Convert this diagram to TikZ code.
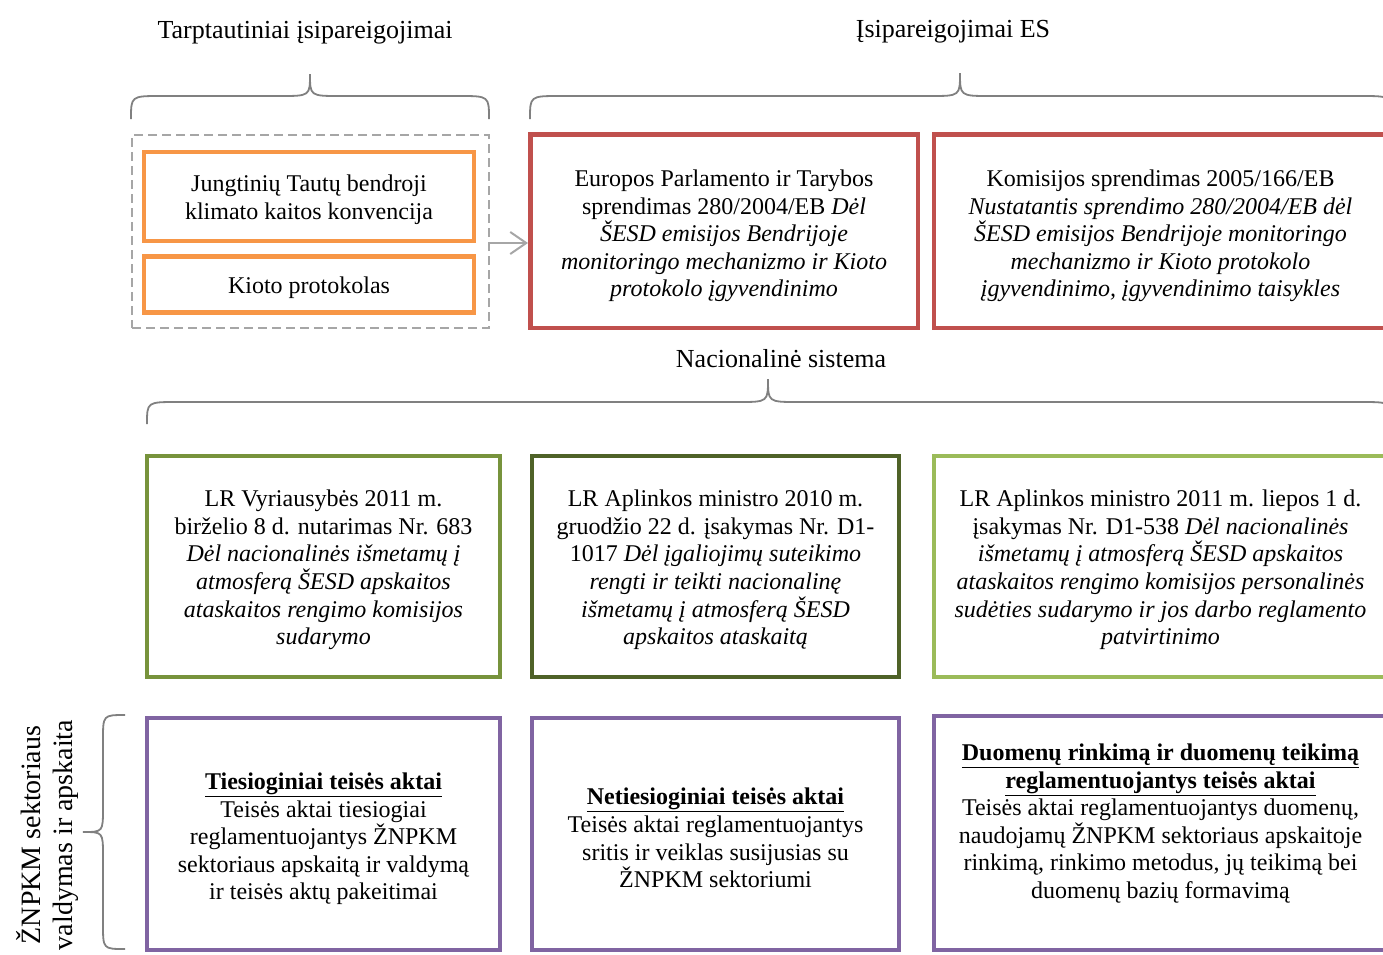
\documentclass[tikz,border=0pt]{standalone}
\usepackage{fontspec}
\setmainfont{Liberation Serif}
\usetikzlibrary{arrows.meta}
\definecolor{orng}{HTML}{F79646}
\definecolor{redb}{HTML}{C0504D}
\definecolor{grA}{HTML}{77933C}
\definecolor{grB}{HTML}{4F6228}
\definecolor{grC}{HTML}{9BBB59}
\definecolor{purp}{HTML}{8064A2}
\definecolor{brc}{HTML}{808080}
\definecolor{dsh}{HTML}{A6A6A6}
\begin{document}
\begin{tikzpicture}[x=1pt,y=-1pt,
  boxtext/.style={font=\fontsize{24}{27.6}\selectfont, align=center, inner sep=0pt},
  frame/.style={draw, line width=4.5pt, inner sep=0pt},
  heading/.style={font=\fontsize{26}{30}\selectfont, anchor=base, inner sep=0pt},
  brace/.style={draw=brc, line width=1.8pt},
]
\useasboundingbox (0,0) rectangle (1383,954);
\clip (0,0) rectangle (1383,954);

% headings
\node[heading] (h1) at (305,38) {Tarptautiniai įsipareigojimai};
\node[heading] (h2) at (953,37) {Įsipareigojimai ES};
\node[heading] (h3) at (781,367) {Nacionalinė sistema};
\node[font=\fontsize{28}{32}\selectfont, align=center, rotate=90, anchor=base, inner sep=0pt] (h4) at (72,835)
  {ŽNPKM sektoriaus\\valdymas ir apskaita};

% braces
\draw[brace] (131,119) .. controls (131,96) .. (161,96) -- (280,96)
  .. controls (310,96) .. (310,74) .. controls (310,96) .. (340,96) -- (459,96)
  .. controls (489,96) .. (489,119);
\draw[brace] (530,119) .. controls (530,96) .. (560,96) -- (930,96)
  .. controls (960,96) .. (960,73) .. controls (960,96) .. (990,96) -- (1360,96)
  .. controls (1392,96) .. (1392,119);
\draw[brace] (147,424) .. controls (147,402) .. (177,402) -- (738,402)
  .. controls (768,402) .. (768,379) .. controls (768,402) .. (798,402) -- (1360,402)
  .. controls (1392,402) .. (1392,424);
\draw[brace] (125,715) .. controls (103,715) .. (103,740) -- (103,808)
  .. controls (103,832) .. (83,832) .. controls (103,832) .. (103,856) -- (103,924)
  .. controls (103,949) .. (125,949);

% international
\node[draw=dsh, line width=2pt, dash pattern=on 9pt off 5pt, minimum width=357pt, minimum height=193pt, inner sep=0pt] (dbox) at (310.5,231.5) {};
\node[frame, draw=orng, minimum width=330pt, minimum height=89pt] (o1) at (309,196.5) {};
\node[boxtext] (o1t) at ([yshift=-3pt]o1.center) {Jungtinių Tautų bendroji\\klimato kaitos konvencija};
\node[frame, draw=orng, minimum width=330pt, minimum height=56pt] (o2) at (309,284.5) {};
\node[boxtext] (o2t) at ([yshift=-3pt]o2.center) {Kioto protokolas};

\coordinate (arrowstart) at (489,243);
\coordinate (arrowend) at (530,243);
\draw[dsh, line width=2pt, shorten >=2pt, -{Straight Barb[length=16pt,width=22pt,line width=2pt]}]
  (arrowstart) -- (arrowend);

% EU
\node[frame, draw=redb, minimum width=387.5pt, minimum height=193.5pt] (r1) at (724,231) {};
\node[boxtext] (r1t) at ([yshift=-5pt]r1.center)
  {Europos Parlamento ir Tarybos\\sprendimas 280/2004/EB \textit{Dėl}\\\textit{ŠESD emisijos Bendrijoje}\\\textit{monitoringo mechanizmo ir Kioto}\\\textit{protokolo įgyvendinimo}};
\node[frame, draw=redb, minimum width=453pt, minimum height=193.5pt] (r2) at (1160.5,231) {};
\node[boxtext] (r2t) at ([yshift=-5pt]r2.center)
  {Komisijos sprendimas 2005/166/EB\\\textit{Nustatantis sprendimo 280/2004/EB dėl}\\\textit{ŠESD emisijos Bendrijoje monitoringo}\\\textit{mechanizmo ir Kioto protokolo}\\\textit{įgyvendinimo, įgyvendinimo taisykles}};

% national
\node[frame, draw=grA, minimum width=353pt, minimum height=221pt] (g1) at (323.5,566.5) {};
\node[boxtext] (g1t) at ([yshift=-3.5pt]g1.center)
  {LR Vyriausybės 2011 m.\\birželio 8 d. nutarimas Nr. 683\\\textit{Dėl nacionalinės išmetamų į}\\\textit{atmosferą ŠESD apskaitos}\\\textit{ataskaitos rengimo komisijos}\\\textit{sudarymo}};
\node[frame, draw=grB, minimum width=367pt, minimum height=221pt] (g2) at (715.5,566.5) {};
\node[boxtext] (g2t) at ([yshift=-3.5pt]g2.center)
  {LR Aplinkos ministro 2010 m.\\gruodžio 22 d. įsakymas Nr. D1-\\1017 \textit{Dėl įgaliojimų suteikimo}\\\textit{rengti ir teikti nacionalinę}\\\textit{išmetamų į atmosferą ŠESD}\\\textit{apskaitos ataskaitą}};
\node[frame, draw=grC, minimum width=453pt, minimum height=221pt] (g3) at (1160.5,566.5) {};
\node[boxtext] (g3t) at ([yshift=-3.5pt]g3.center)
  {LR Aplinkos ministro 2011 m. liepos 1 d.\\įsakymas Nr. D1-538 \textit{Dėl nacionalinės}\\\textit{išmetamų į atmosferą ŠESD apskaitos}\\\textit{ataskaitos rengimo komisijos personalinės}\\\textit{sudėties sudarymo ir jos darbo reglamento}\\\textit{patvirtinimo}};

% sector
\node[frame, draw=purp, minimum width=353pt, minimum height=232pt] (p1) at (323.5,834) {};
\node[boxtext] (p1t) at ([yshift=-5pt]p1.center)
  {\underline{\textbf{Tiesioginiai teisės aktai}}\\Teisės aktai tiesiogiai\\reglamentuojantys ŽNPKM\\sektoriaus apskaitą ir valdymą\\ir teisės aktų pakeitimai};
\node[frame, draw=purp, minimum width=367pt, minimum height=232pt] (p2) at (715.5,834) {};
\node[boxtext] (p2t) at ([yshift=-4pt]p2.center)
  {\underline{\textbf{Netiesioginiai teisės aktai}}\\Teisės aktai reglamentuojantys\\sritis ir veiklas susijusias su\\ŽNPKM sektoriumi};
\node[frame, draw=purp, minimum width=453pt, minimum height=234pt] (p3) at (1160.5,833) {};
\node[boxtext] (p3t) at ([yshift=9.5pt]p3.center)
  {\underline{\textbf{Duomenų rinkimą ir duomenų teikimą}}\\\underline{\textbf{reglamentuojantys teisės aktai}}\\Teisės aktai reglamentuojantys duomenų,\\naudojamų ŽNPKM sektoriaus apskaitoje\\rinkimą, rinkimo metodus, jų teikimą bei\\duomenų bazių formavimą};
\end{tikzpicture}
\end{document}
